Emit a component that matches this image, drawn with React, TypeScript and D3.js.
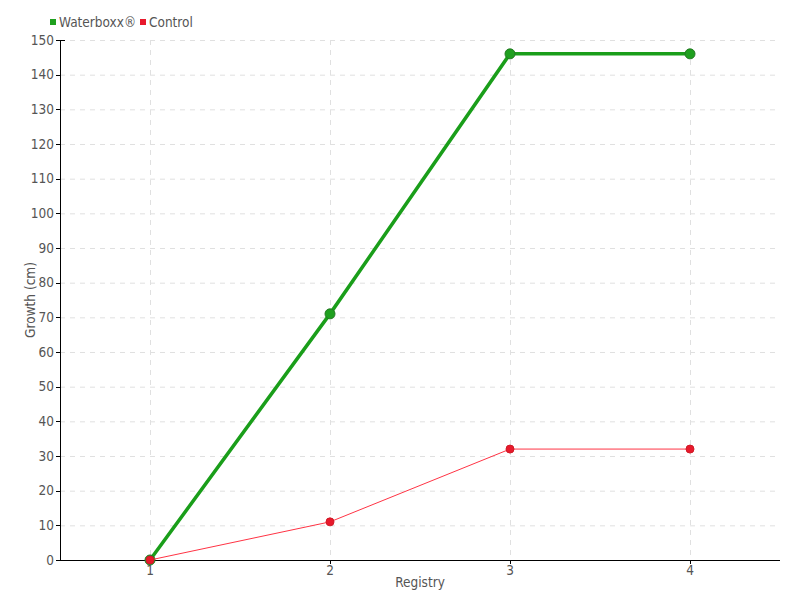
import React from "react";
import * as d3 from "d3";

const categories = ["1", "2", "3", "4"];
const waterboxx = [0, 71, 146, 146];
const control = [0, 11, 32, 32];
const yTicks = d3.range(0, 151, 10);

const W = 800, H = 600;
const m = { left: 60, right: 20, top: 40, bottom: 40 };
const FONT = "'DejaVu Sans Condensed', 'Liberation Sans Narrow', sans-serif";
const TXT = "#555";
const FS = 13.5;

export default function App() {
  const x = d3.scaleBand().domain(categories).range([m.left, W - m.right]);
  const y = d3.scaleLinear().domain([0, 150]).range([H - m.bottom, m.top]);
  const cx = (c: string) => (x(c) as number) + x.bandwidth() / 2;
  const line = d3.line<number>().x((_, i) => cx(categories[i])).y((d) => y(d));
  return (
    <svg width={W} height={H} style={{ position: "absolute", left: 0, top: 0, background: "#fff" }} fontFamily={FONT}>
      {/* grid */}
      {yTicks.map((t) => (
        <line key={"gy" + t} x1={m.left} x2={W - m.right} y1={y(t) + 0.5} y2={y(t) + 0.5} stroke="#e0e0e0" strokeDasharray="5,5" />
      ))}
      {categories.map((c) => (
        <line key={"gx" + c} x1={cx(c) + 0.5} x2={cx(c) + 0.5} y1={m.top} y2={H - m.bottom} stroke="#e0e0e0" strokeDasharray="5,5" />
      ))}
      {/* axes */}
      <g shapeRendering="crispEdges">
        <line x1={m.left + 0.5} x2={m.left + 0.5} y1={m.top} y2={H - m.bottom} stroke="#000" />
        <line x1={m.left} x2={W - m.right} y1={H - m.bottom + 0.5} y2={H - m.bottom + 0.5} stroke="#000" />
        <line x1={m.left - 4} x2={m.left + 5} y1={m.top + 0.5} y2={m.top + 0.5} stroke="#000" />
        {yTicks.map((t) => (
          <line key={"ytl" + t} x1={m.left - 4} x2={m.left} y1={y(t) + 0.5} y2={y(t) + 0.5} stroke="#000" />
        ))}
        {categories.map((c) => (
          <line key={"xtl" + c} x1={cx(c) + 0.5} x2={cx(c) + 0.5} y1={H - m.bottom} y2={H - m.bottom + 4} stroke="#000" />
        ))}
      </g>
      {yTicks.map((t) => (
        <text key={"yt" + t} x={m.left - 6} y={y(t)} dy="0.35em" textAnchor="end" fontSize={FS} fill={TXT}>{t}</text>
      ))}
      {categories.map((c) => (
        <text key={"xt" + c} x={cx(c)} y={H - m.bottom + 15} textAnchor="middle" fontSize={FS} fill={TXT}>{c}</text>
      ))}
      <text x={(m.left + W - m.right) / 2} y={H - 13} textAnchor="middle" fontSize={FS} fill={TXT}>Registry</text>
      <text transform={`translate(35,${(m.top + H - m.bottom) / 2}) rotate(-90)`} textAnchor="middle" fontSize={FS} fill={TXT}>Growth (cm)</text>
      {/* series */}
      <path d={line(waterboxx) as string} fill="none" stroke="#1a9e1a" strokeWidth={3.5} />
      {waterboxx.map((v, i) => (
        <circle key={"w" + i} cx={cx(categories[i])} cy={y(v)} r={5} fill="#1fa01f" stroke="#237a23" strokeWidth={1} />
      ))}
      <path d={line(control) as string} fill="none" stroke="#ff3344" strokeWidth={1} />
      {control.map((v, i) => (
        <circle key={"c" + i} cx={cx(categories[i])} cy={y(v)} r={4} fill="#e8192c" stroke="#d01a26" strokeWidth={1} />
      ))}
      {/* legend */}
      <rect x={50} y={19} width={6} height={6} fill="#1fa01f" />
      <text x={59} y={22} dy="0.35em" fontSize={FS} fill={TXT}>Waterboxx®</text>
      <rect x={140} y={19} width={6} height={6} fill="#e8192c" />
      <text x={149} y={22} dy="0.35em" fontSize={FS} fill={TXT}>Control</text>
    </svg>
  );
}
